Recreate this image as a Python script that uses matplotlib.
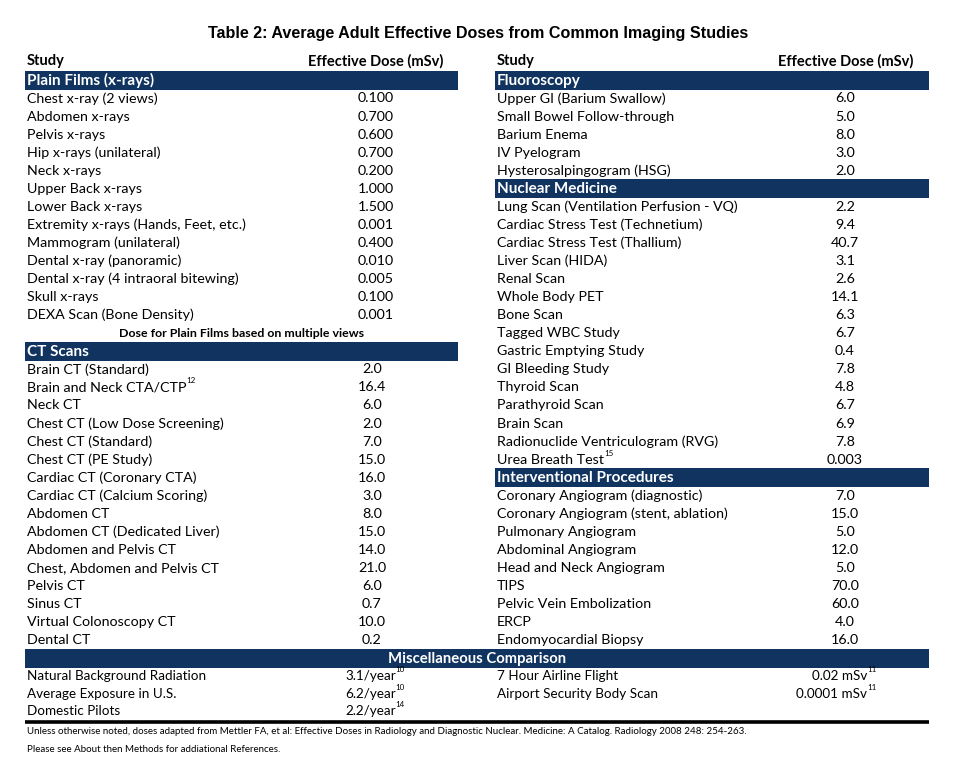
import matplotlib
matplotlib.use("Agg")
import matplotlib.pyplot as plt
from matplotlib.patches import Rectangle

# ---------------- data ----------------
title = "Table 2: Average Adult Effective Doses from Common Imaging Studies"
col_study = "Study"
col_dose = "Effective Dose (mSv)"

plain_title = "Plain Films (x-rays)"
plain_studies = ["Chest x-ray (2 views)", "Abdomen x-rays", "Pelvis x-rays",
                 "Hip x-rays (unilateral)", "Neck x-rays", "Upper Back x-rays",
                 "Lower Back x-rays", "Extremity x-rays (Hands, Feet, etc.)",
                 "Mammogram (unilateral)", "Dental x-ray (panoramic)",
                 "Dental x-ray (4 intraoral bitewing)", "Skull x-rays",
                 "DEXA Scan (Bone Density)"]
plain_doses = ["0.100", "0.700", "0.600", "0.700", "0.200", "1.000", "1.500",
               "0.001", "0.400", "0.010", "0.005", "0.100", "0.001"]
plain_note = "Dose for Plain Films based on multiple views"

ct_title = "CT Scans"
ct_studies = ["Brain CT (Standard)", "Brain and Neck CTA/CTP", "Neck CT",
              "Chest CT (Low Dose Screening)", "Chest CT (Standard)",
              "Chest CT (PE Study)", "Cardiac CT (Coronary CTA)",
              "Cardiac CT (Calcium Scoring)", "Abdomen CT",
              "Abdomen CT (Dedicated Liver)", "Abdomen and Pelvis CT",
              "Chest, Abdomen and Pelvis CT", "Pelvis CT", "Sinus CT",
              "Virtual Colonoscopy CT", "Dental CT"]
ct_doses = ["2.0", "16.4", "6.0", "2.0", "7.0", "15.0", "16.0", "3.0", "8.0",
            "15.0", "14.0", "21.0", "6.0", "0.7", "10.0", "0.2"]
ct_sups = ["", "12", "", "", "", "", "", "", "", "", "", "", "", "", "", ""]

fluoro_title = "Fluoroscopy"
fluoro_studies = ["Upper GI (Barium Swallow)", "Small Bowel Follow-through",
                  "Barium Enema", "IV Pyelogram", "Hysterosalpingogram (HSG)"]
fluoro_doses = ["6.0", "5.0", "8.0", "3.0", "2.0"]

nuc_title = "Nuclear Medicine"
nuc_studies = ["Lung Scan (Ventilation Perfusion - VQ)",
               "Cardiac Stress Test (Technetium)", "Cardiac Stress Test (Thallium)",
               "Liver Scan (HIDA)", "Renal Scan", "Whole Body PET", "Bone Scan",
               "Tagged WBC Study", "Gastric Emptying Study", "GI Bleeding Study",
               "Thyroid Scan", "Parathyroid Scan", "Brain Scan",
               "Radionuclide Ventriculogram (RVG)", "Urea Breath Test"]
nuc_doses = ["2.2", "9.4", "40.7", "3.1", "2.6", "14.1", "6.3", "6.7", "0.4",
             "7.8", "4.8", "6.7", "6.9", "7.8", "0.003"]
nuc_sups = [""] * 14 + ["15"]

interv_title = "Interventional Procedures"
interv_studies = ["Coronary Angiogram (diagnostic)",
                  "Coronary Angiogram (stent, ablation)", "Pulmonary Angiogram",
                  "Abdominal Angiogram", "Head and Neck Angiogram", "TIPS",
                  "Pelvic Vein Embolization", "ERCP", "Endomyocardial Biopsy"]
interv_doses = ["7.0", "15.0", "5.0", "12.0", "5.0", "70.0", "60.0", "4.0", "16.0"]

misc_title = "Miscellaneous Comparison"
misc_left_items = ["Natural Background Radiation", "Average Exposure in U.S.",
                   "Domestic Pilots"]
misc_left_values = ["3.1/year", "6.2/year", "2.2/year"]
misc_left_sups = ["10", "10", "14"]
misc_right_items = ["7 Hour Airline Flight", "Airport Security Body Scan"]
misc_right_values = ["0.02 mSv", "0.0001 mSv"]
misc_right_sups = ["11", "11"]

footnotes = ["Unless otherwise noted, doses adapted from Mettler FA, et al: Effective Doses in "
             "Radiology and Diagnostic Nuclear. Medicine: A Catalog. Radiology 2008 248: 254-263.",
             "Please see About then Methods for addiational References."]

# ---------------- layout ----------------
W, H = 954, 764
NAVY = "#10345f"
FONT = ["Lato", "DejaVu Sans"]
BODY = 10.3
fig = plt.figure(figsize=(W / 100, H / 100), dpi=100)
fig.patch.set_facecolor("white")
ax = fig.add_axes([0, 0, 1, 1])
ax.set_xlim(0, W)
ax.set_ylim(H, 0)
ax.axis("off")

RH = 18.06
Y0 = 80.4  # centre of first band row


def ry(i):
    return Y0 + i * RH


L_X0, L_X1, L_TX, L_VX = 25, 458, 27, 376
R_X0, R_X1, R_TX, R_VX = 495, 929, 497, 845


def text(x, y, s, **kw):
    kw.setdefault("fontsize", BODY)
    kw.setdefault("family", FONT)
    kw.setdefault("va", "center")
    return ax.text(x, y, s, **kw)


def sup(artist, s, size=5.8):
    ax.annotate(s, xy=(1.0, 1.05), xycoords=artist, fontsize=size, family=FONT,
                ha="left", va="center")


def band(x0, x1, i, label, center=False, size=11.0):
    y = ry(i)
    ax.add_patch(Rectangle((x0, y - 9.4), x1 - x0, 18.8, color=NAVY, lw=0))
    if center:
        text((x0 + x1) / 2, y + 0.3, label, color="white", weight="bold",
             ha="center", fontsize=size)
    else:
        text(x0 + 2, y + 0.3, label, color="white", weight="bold", fontsize=size)


def rows(tx, vx, start, studies, doses, sups=None):
    for k, (s, d) in enumerate(zip(studies, doses)):
        y = ry(start + k)
        t = text(tx, y, s)
        if sups and sups[k]:
            sup(t, sups[k])
        text(vx, y, d, ha="center")


# title and column headers
text(W / 2 + 1, 33.5, title, family=["Liberation Sans", "DejaVu Sans"], weight="bold",
     fontsize=11.65, ha="center")
text(L_TX, 61.5, col_study, weight="bold", fontsize=10.5)
text(443, 61.5, col_dose, weight="bold", fontsize=10.5, ha="right")
text(R_TX, 61.5, col_study, weight="bold", fontsize=10.5)
text(913, 61.5, col_dose, weight="bold", fontsize=10.5, ha="right")

# left column
band(L_X0, L_X1, 0, plain_title)
rows(L_TX, L_VX, 1, plain_studies, plain_doses)
n = 1 + len(plain_studies)
text((L_X0 + L_X1) / 2, ry(n) + 0.5, plain_note, weight="bold", fontsize=8.9, ha="center")
band(L_X0, L_X1, n + 1, ct_title)
rows(L_TX, L_VX - 4, n + 2, ct_studies, ct_doses, ct_sups)

# right column
band(R_X0, R_X1, 0, fluoro_title)
rows(R_TX, R_VX, 1, fluoro_studies, fluoro_doses)
m = 1 + len(fluoro_studies)
band(R_X0, R_X1, m, nuc_title)
rows(R_TX, R_VX, m + 1, nuc_studies, nuc_doses, nuc_sups)
m = m + 1 + len(nuc_studies)
band(R_X0, R_X1, m, interv_title)
rows(R_TX, R_VX, m + 1, interv_studies, interv_doses)
m = m + 1 + len(interv_studies)

# miscellaneous
band(L_X0, R_X1, m, misc_title, center=True, size=10.7)
MISC = 9.7
for k, (s, v, sp) in enumerate(zip(misc_left_items, misc_left_values, misc_left_sups)):
    y = ry(m + 1 + k) - 0.5 * k
    text(L_TX, y, s, fontsize=MISC)
    t = text(345, y, v, fontsize=MISC)
    sup(t, sp)
for k, (s, v, sp) in enumerate(zip(misc_right_items, misc_right_values, misc_right_sups)):
    y = ry(m + 1 + k) - 0.5 * k
    text(R_TX, y, s, fontsize=MISC)
    t = text(867, y, v, ha="right", fontsize=MISC)
    sup(t, sp)

ax.plot([L_X0, R_X1], [722, 722], color="black", lw=2.6, solid_capstyle="butt")

text(L_TX, 731, footnotes[0], fontsize=7.0)
text(L_TX, 749, footnotes[1], fontsize=7.0)

fig.savefig("out.png", dpi=100, facecolor="white")
